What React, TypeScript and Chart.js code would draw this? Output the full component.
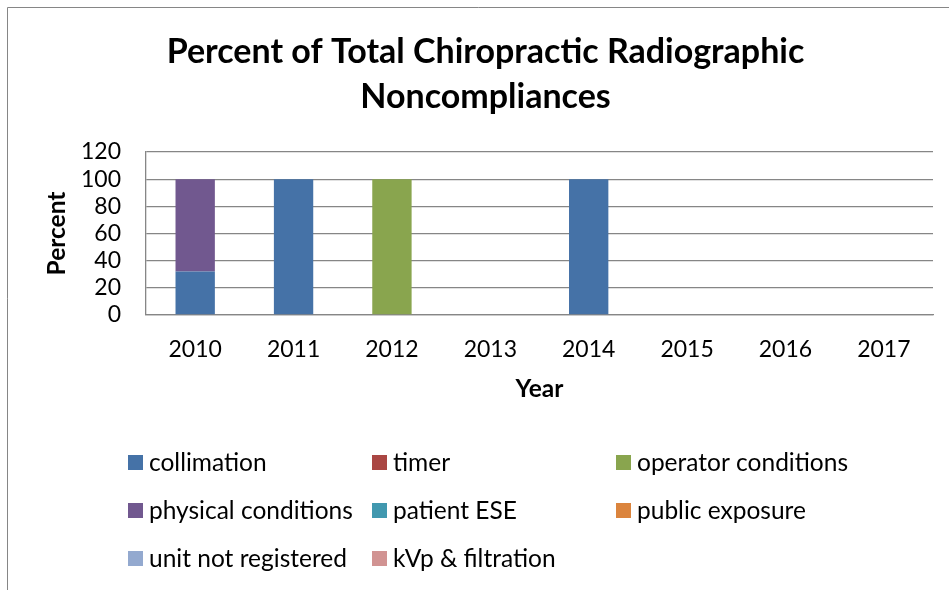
import React, { useEffect, useRef } from "react";
import { Chart, registerables } from "chart.js";

Chart.register(...registerables);

const categories = ["2010", "2011", "2012", "2013", "2014", "2015", "2016", "2017"];
const collimation = [32, 100, 0, 0, 100, 0, 0, 0];
const timer = [0, 0, 0, 0, 0, 0, 0, 0];
const operatorConditions = [0, 0, 100, 0, 0, 0, 0, 0];
const physicalConditions = [68, 0, 0, 0, 0, 0, 0, 0];
const patientESE = [0, 0, 0, 0, 0, 0, 0, 0];
const publicExposure = [0, 0, 0, 0, 0, 0, 0, 0];
const unitNotRegistered = [0, 0, 0, 0, 0, 0, 0, 0];
const kvpFiltration = [0, 0, 0, 0, 0, 0, 0, 0];

const seriesNames = [
  "collimation",
  "timer",
  "operator conditions",
  "physical conditions",
  "patient ESE",
  "public exposure",
  "unit not registered",
  "kVp & filtration",
];
const seriesData = [
  collimation,
  timer,
  operatorConditions,
  physicalConditions,
  patientESE,
  publicExposure,
  unitNotRegistered,
  kvpFiltration,
];
const seriesColors = [
  "#4572A7",
  "#AA4643",
  "#89A54E",
  "#71588F",
  "#4198AF",
  "#DB843D",
  "#93A9CF",
  "#D19392",
];

const titleLines = ["Percent of Total Chiropractic Radiographic", "Noncompliances"];
const yTitle = "Percent";
const xTitle = "Year";

const FONT = "Lato";

const frameAndLegend = {
  id: "frameAndLegend",
  beforeDraw(chart: any) {
    const ctx = chart.ctx;
    ctx.save();
    ctx.fillStyle = "#ffffff";
    ctx.fillRect(0, 0, chart.width, chart.height);
    ctx.strokeStyle = "#868686";
    ctx.lineWidth = 1;
    ctx.beginPath();
    ctx.moveTo(7.5, chart.height);
    ctx.lineTo(7.5, 7.5);
    ctx.lineTo(chart.width, 7.5);
    ctx.stroke();
    ctx.restore();
  },
  afterDraw(chart: any) {
    const ctx = chart.ctx;
    ctx.save();
    ctx.font = `24.5px ${FONT}`;
    ctx.textBaseline = "middle";
    ctx.textAlign = "left";
    chart.data.datasets.forEach((ds: any, i: number) => {
      const col = i % 3;
      const row = Math.floor(i / 3);
      const bx = 128 + col * 244;
      const cy = 462 + row * 48;
      ctx.fillStyle = ds.backgroundColor;
      ctx.fillRect(bx, cy - 7, 15, 15);
      ctx.fillStyle = "#000000";
      ctx.fillText(ds.label, bx + 21, cy + 1);
    });
    ctx.restore();
  },
};

export default function App() {
  const ref = useRef<HTMLCanvasElement | null>(null);

  useEffect(() => {
    if (!ref.current) return;
    const chart = new Chart(ref.current, {
      type: "bar",
      data: {
        labels: categories,
        datasets: seriesNames.map((name, i) => ({
          label: name,
          data: seriesData[i],
          backgroundColor: seriesColors[i],
          borderWidth: 0,
          barPercentage: 0.4,
          categoryPercentage: 1,
        })),
      },
      options: {
        responsive: false,
        animation: false,
        devicePixelRatio: 1,
        layout: { padding: { left: 22, right: 0, top: 0, bottom: 180 } },
        plugins: {
          legend: { display: false },
          tooltip: { enabled: false },
          title: {
            display: true,
            text: titleLines,
            color: "#000000",
            font: { family: FONT, size: 34, weight: "bold", lineHeight: 45 / 34 },
            padding: { top: 29.5, bottom: 32.5 },
          },
        },
        scales: {
          x: {
            stacked: true,
            grid: { display: false, drawTicks: false },
            border: { display: true, color: "#868686", width: 1.3 },
            ticks: {
              color: "#000000",
              font: { family: FONT, size: 23 },
              padding: 21,
              maxRotation: 0,
              autoSkip: false,
            },
            title: {
              display: true,
              text: xTitle,
              color: "#000000",
              font: { family: FONT, size: 24.5, weight: "bold", lineHeight: 1.2 },
              padding: { top: 0, bottom: 6 },
            },
            afterFit(s: any) {
              s.height = 95;
            },
          },
          y: {
            stacked: true,
            min: 0,
            max: 120,
            ticks: {
              stepSize: 20,
              autoSkip: false,
              color: "#000000",
              font: { family: FONT, size: 23 },
              padding: 25,
            },
            grid: { color: "#868686", lineWidth: 1.3, drawTicks: false },
            border: { display: true, color: "#868686", width: 1.3 },
            title: {
              display: true,
              text: yTitle,
              color: "#000000",
              font: { family: FONT, size: 24.5, weight: "bold", lineHeight: 1.2 },
              padding: { top: 20, bottom: 0 },
            },
            afterFit(s: any) {
              s.width = 124;
            },
          },
          y2: {
            type: "linear",
            position: "right",
            display: true,
            grid: { display: false, drawOnChartArea: false, drawTicks: false },
            border: { display: false },
            ticks: { display: false },
            afterFit(s: any) {
              s.width = 16;
            },
          },
        },
      },
      plugins: [frameAndLegend],
    } as any);
    return () => chart.destroy();
  }, []);

  return (
    <div style={{ position: "absolute", left: 0, top: 0, width: 949, height: 590, background: "#fff" }}>
      <canvas ref={ref} width={949} height={590} style={{ display: "block" }} />
    </div>
  );
}
